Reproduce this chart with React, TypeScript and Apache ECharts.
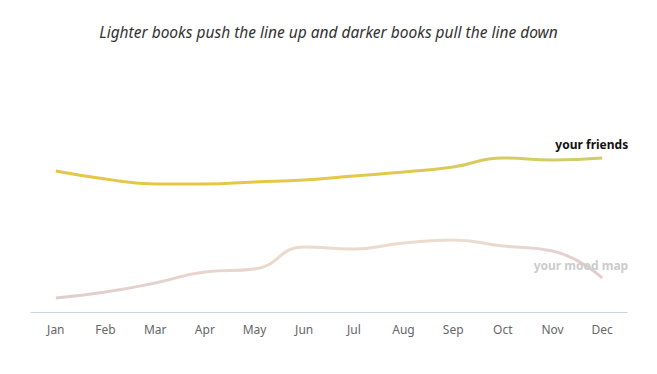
import React, { useEffect, useRef } from "react";
import * as echarts from "echarts";

const months = ["Jan", "Feb", "Mar", "Apr", "May", "Jun", "Jul", "Aug", "Sep", "Oct", "Nov", "Dec"];
const friendsValues = [141, 133, 128, 128, 130, 132, 136, 140, 145, 154, 152, 154];
const moodValues = [14, 20, 29, 40, 43, 65, 63, 69, 72, 66, 61, 34];
const titleText = "Lighter books push the line up and darker books pull the line down";
const friendsLabel = "your friends";
const moodLabel = "your mood map";

const FONT = "'Noto Sans', sans-serif";

export default function App() {
  const ref = useRef<HTMLDivElement>(null);
  useEffect(() => {
    if (!ref.current) return;
    const chart = echarts.init(ref.current, null, { renderer: "svg" });
    chart.setOption({
      animation: false,
      backgroundColor: "#ffffff",
      title: {
        text: titleText,
        left: "center",
        top: 19,
        textStyle: { fontFamily: FONT, fontStyle: "italic", fontWeight: "normal", fontSize: 15.5, color: "#333333" },
      },
      grid: { left: 31, right: 30, top: 62, bottom: 62 },
      xAxis: {
        type: "category",
        data: months,
        boundaryGap: true,
        axisLine: { show: true, lineStyle: { color: "#c7d4e6", width: 1 } },
        axisTick: { show: false },
        axisLabel: { color: "#666666", fontFamily: FONT, fontSize: 12, margin: 11 },
        splitLine: { show: false },
      },
      yAxis: {
        type: "value",
        min: 0,
        max: 250,
        show: false,
        splitLine: { show: false },
      },
      series: [
        {
          name: friendsLabel,
          type: "line",
          data: friendsValues,
          smooth: 0.5,
          showSymbol: false,
          symbol: "none",
          lineStyle: {
            width: 3,
            color: new echarts.graphic.LinearGradient(0, 0, 1, 0, [
              { offset: 0, color: "#e6c646" },
              { offset: 0.5, color: "#e4c848" },
              { offset: 1, color: "#cfcd6e" },
            ]),
          },
          endLabel: {
            show: true,
            formatter: friendsLabel,
            align: "right",
            offset: [18, -14],
            fontFamily: FONT,
            fontWeight: "bold",
            fontSize: 12,
            color: "#111111",
          },
        },
        {
          name: moodLabel,
          type: "line",
          data: moodValues,
          smooth: 0.5,
          showSymbol: false,
          symbol: "none",
          lineStyle: {
            width: 3,
            color: new echarts.graphic.LinearGradient(0, 0, 1, 0, [
              { offset: 0, color: "#dfcdcf" },
              { offset: 0.45, color: "#ecdacb" },
              { offset: 0.75, color: "#ecdcd0" },
              { offset: 1, color: "#e2cccc" },
            ]),
          },
          endLabel: {
            show: true,
            formatter: moodLabel,
            align: "right",
            offset: [18, -13],
            fontFamily: FONT,
            fontWeight: "bold",
            fontSize: 12,
            color: "#cccccc",
          },
        },
      ],
    });
    return () => chart.dispose();
  }, []);
  return <div ref={ref} style={{ width: 657, height: 374, position: "absolute", left: 0, top: 0 }} />;
}
